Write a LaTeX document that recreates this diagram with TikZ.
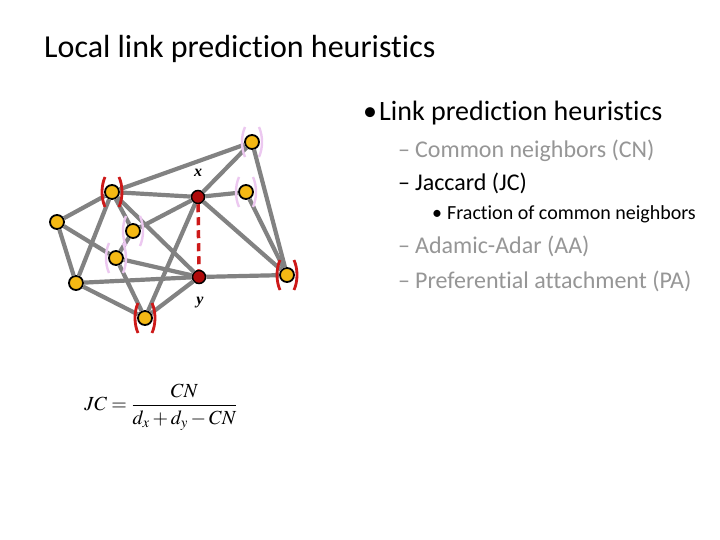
\documentclass[tikz,border=0pt]{standalone}
\usepackage{mathptmx}
\usepackage[no-math]{fontspec}
\setmainfont[Ligatures=NoCommon]{Carlito}
\newfontfamily\tnr{Liberation Serif}
\usetikzlibrary{positioning}

\definecolor{nodeyellow}{RGB}{245,185,20}
\definecolor{nodered}{RGB}{175,10,10}
\definecolor{edgegrey}{RGB}{130,130,130}
\definecolor{brred}{RGB}{205,25,25}
\definecolor{brpink}{RGB}{236,200,240}
\definecolor{textgrey}{RGB}{150,150,150}

\tikzset{
  nbr/.style={circle, draw=black, line width=1.8pt, fill=nodeyellow, minimum size=14pt, inner sep=0pt},
  endpt/.style={circle, draw=black, line width=1.5pt, fill=nodered, minimum size=13pt, inner sep=0pt},
  edge/.style={draw=edgegrey, line width=4.2pt},
  cnbr/.style={draw=brred, line width=2.8pt},
  onbr/.style={draw=brpink, line width=2.4pt},
  lvlone/.style={anchor=base west, inner sep=0pt, font=\fontsize{28}{32}\selectfont},
  lvltwo/.style={anchor=base west, inner sep=0pt, font=\fontsize{24}{28}\selectfont},
  lvlthree/.style={anchor=base west, inner sep=0pt, font=\fontsize{20}{24}\selectfont}
}

% brackets around a node
\newcommand{\brkt}[2]{%
  \draw[#2] ([shift={(-7,-15)}]#1.center) .. controls ([shift={(-11,-6)}]#1.center) and ([shift={(-11,6)}]#1.center) .. ([shift={(-7,15)}]#1.center);
  \draw[#2] ([shift={(7,-15)}]#1.center) .. controls ([shift={(11,-6)}]#1.center) and ([shift={(11,6)}]#1.center) .. ([shift={(7,15)}]#1.center);
}

\begin{document}
\begin{tikzpicture}[x=1pt, y=-1pt]
  \useasboundingbox[fill=white] (0,0) rectangle (720,540);

  % title
  \node[anchor=base west, inner sep=0pt, font=\fontsize{32}{36}\selectfont] (title) at (44,58) {Local link prediction heuristics};

  % graph
  \node[nbr] (a) at (252,142) {};
  \node[nbr] (b) at (112,192) {};
  \node[endpt] (x) at (198,197) {};
  \node[nbr] (c) at (246,192) {};
  \node[nbr] (d) at (57,222) {};
  \node[nbr] (e) at (133,231) {};
  \node[nbr] (f) at (116,258) {};
  \node[nbr] (g) at (76,283) {};
  \node[endpt] (y) at (199,277) {};
  \node[nbr] (h) at (287,275) {};
  \node[nbr] (i) at (145,318) {};

  \draw[edge] (a) -- (b);
  \draw[edge] (a) -- (x);
  \draw[edge] (a) -- (h);
  \draw[edge] (b) -- (x);
  \draw[edge] (b) -- (d);
  \draw[edge] (b) -- (g);
  \draw[edge] (b) -- (e);
  \draw[edge] (b) -- (y);
  \draw[edge] (c) -- (x);
  \draw[edge] (c) -- (h);
  \draw[edge] (x) -- (h);
  \draw[edge] (x) -- (e);
  \draw[edge] (x) -- (i);
  \draw[edge] (d) -- (f);
  \draw[edge] (d) -- (g);
  \draw[edge] (e) -- (f);
  \draw[edge] (f) -- (y);
  \draw[edge] (f) -- (i);
  \draw[edge] (g) -- (y);
  \draw[edge] (g) -- (i);
  \draw[edge] (y) -- (i);
  \draw[edge] (y) -- (h);
  \draw[brred, line width=3.5pt, dash pattern=on 8pt off 5pt] (x) -- (y);

  \brkt{b}{cnbr}
  \brkt{h}{cnbr}
  \brkt{i}{cnbr}
  \brkt{a}{onbr}
  \brkt{c}{onbr}
  \brkt{e}{onbr}
  \brkt{f}{onbr}

  \node[font=\tnr\bfseries\itshape\fontsize{16}{18}\selectfont] (xlabel) at (198,173) {x};
  \node[font=\tnr\bfseries\itshape\fontsize{16}{18}\selectfont] (ylabel) at (200,303) {y};

  % formula
  \node[font=\fontsize{20}{24}\selectfont] (jc) at (161,407) {$JC=\displaystyle\frac{CN}{d_x+d_y-CN}$};

  % bullets
  \node[lvlone] (b1) at (363,121) {\textbullet\hspace{2pt}Link prediction heuristics};
  \node[lvltwo, text=textgrey] (cn) at (398,158) {–\hspace{5pt}Common neighbors (CN)};
  \node[lvltwo] (jac) at (398,191) {–\hspace{5pt}Jaccard (JC)};
  \node[lvlthree] (frac) at (432,220) {\textbullet\hspace{5pt}Fraction of common neighbors};
  \node[lvltwo, text=textgrey] (aa) at (398,254) {–\hspace{5pt}Adamic-Adar (AA)};
  \node[lvltwo, text=textgrey] (pa) at (398,288) {–\hspace{5pt}Preferential attachment (PA)};
\end{tikzpicture}
\end{document}
